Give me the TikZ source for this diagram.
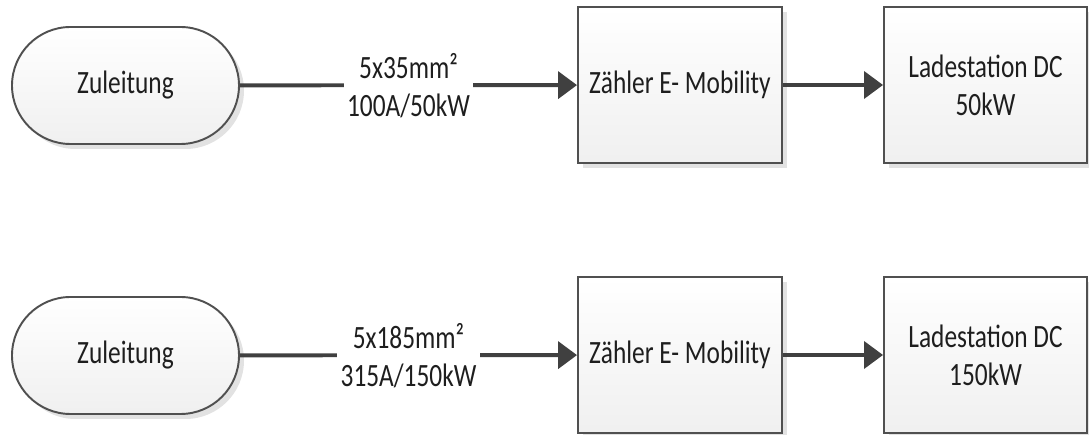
\documentclass[tikz,border=0pt]{standalone}
\usepackage{fontspec}
\setmainfont{Carlito}[FakeStretch=0.78]
\usetikzlibrary{arrows.meta, shadows}
\definecolor{linegray}{RGB}{64,64,64}
\definecolor{boxgray}{RGB}{80,80,80}
\definecolor{shadowgray}{RGB}{226,226,226}
\definecolor{textgray}{RGB}{30,30,30}

\begin{document}
\begin{tikzpicture}[
  font=\fontsize{18.5}{21.6}\selectfont, text=textgray,
  block/.style={draw=boxgray, line width=1.1pt, top color=white, bottom color=black!6,
    drop shadow={shadow xshift=0.1cm, shadow yshift=-0.1cm, fill=shadowgray, opacity=1},
    align=center, inner sep=0pt},
  feed/.style={block, minimum width=4.54cm, minimum height=2.34cm, rounded corners=1.17cm},
  meter/.style={block, minimum width=4.08cm, minimum height=3.12cm},
  charger/.style={block, minimum width=4.06cm, minimum height=3.12cm},
  wire/.style={linegray, line width=2.2pt, -{Triangle[length=0.38cm, width=0.54cm]}},
  cable/.style={fill=white, text=textgray, inner sep=2pt, align=center}
]
  \useasboundingbox (0,0) rectangle (21.78,-8.7);
  % 50 kW line
  \node[feed] (feed1) at (2.51,-1.71) {Zuleitung};
  \node[meter] (meter1) at (13.6,-1.70) {Zähler E- Mobility};
  \node[charger] (station1) at (19.71,-1.70) {Ladestation DC\\50kW};
  \draw[wire] (feed1) -- node[cable] {5x35mm²\\100A/50kW} (meter1);
  \draw[wire] (meter1) -- (station1);
  % 150 kW line
  \node[feed] (feed2) at (2.51,-7.11) {Zuleitung};
  \node[meter] (meter2) at (13.6,-7.10) {Zähler E- Mobility};
  \node[charger] (station2) at (19.71,-7.10) {Ladestation DC\\150kW};
  \draw[wire] (feed2) -- node[cable] {5x185mm²\\315A/150kW} (meter2);
  \draw[wire] (meter2) -- (station2);
\end{tikzpicture}
\end{document}
